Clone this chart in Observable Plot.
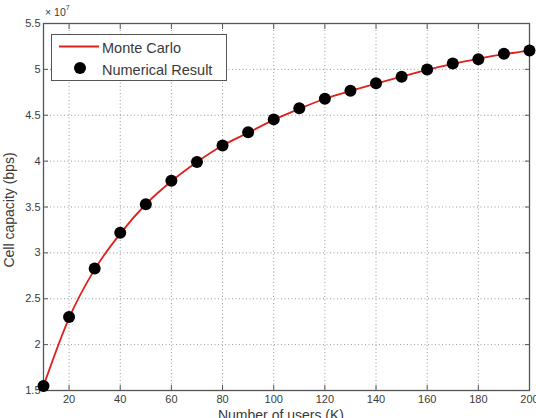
<!DOCTYPE html>
<html><head><meta charset="utf-8">
<script src="https://cdn.jsdelivr.net/npm/d3@7"></script>
<script src="https://cdn.jsdelivr.net/npm/@observablehq/plot@0.6"></script>
<style>
html,body{margin:0;padding:0;background:#fff;}
#chart{position:relative;width:536px;height:418px;font-family:"Liberation Sans",Arial,sans-serif;}
</style>
</head><body><div id="chart"></div>
<script>
const users = [10,20,30,40,50,60,70,80,90,100,110,120,130,140,150,160,170,180,190,200];
const numerical = [1.55,2.30,2.83,3.22,3.53,3.785,3.99,4.17,4.315,4.455,4.577,4.68,4.766,4.85,4.92,4.998,5.064,5.11,5.17,5.205];
const monteCarlo = [1.55,2.29,2.82,3.21,3.53,3.78,3.99,4.17,4.31,4.45,4.57,4.68,4.765,4.845,4.92,4.995,5.06,5.115,5.165,5.205];
const xTicks = [20,40,60,80,100,120,140,160,180,200];
const yTicks = [1.5,2,2.5,3,3.5,4,4.5,5,5.5];
const xLabel = "Number of users (K)";
const yLabel = "Cell capacity (bps)";
const series = ["Monte Carlo","Numerical Result"];

const mc = users.map((u,i)=>({u, v: monteCarlo[i]}));
const nr = users.map((u,i)=>({u, v: numerical[i]}));
const axisColor = "#555";
const textColor = "#3a3a3a";

const plot = Plot.plot({
  width: 536, height: 418,
  marginLeft: 43, marginRight: 7, marginTop: 23, marginBottom: 28,
  style: {fontFamily: "Liberation Sans, Arial, sans-serif", fontSize: "11px", color: textColor, background: "#fff"},
  x: {domain: [10, 200]},
  y: {domain: [1.5, 5.5]},
  marks: [
    Plot.gridX(xTicks, {stroke: "#999", strokeOpacity: 1, strokeDasharray: "1,2.5"}),
    Plot.gridY(yTicks, {stroke: "#999", strokeOpacity: 1, strokeDasharray: "1,2.5"}),
    Plot.axisX(xTicks, {anchor: "bottom", tickSize: -5, tickPadding: 10, label: null, stroke: axisColor, fill: textColor, fontSize: 11}),
    Plot.axisX(xTicks, {anchor: "top", tickSize: -5, tickFormat: () => "", label: null, stroke: axisColor}),
    Plot.axisY(yTicks, {anchor: "left", tickSize: -5, tickPadding: 8, label: null, tickFormat: d => String(d), stroke: axisColor, fill: textColor, fontSize: 11}),
    Plot.axisY(yTicks, {anchor: "right", tickSize: -5, tickFormat: () => "", label: null, stroke: axisColor}),
    Plot.frame({stroke: axisColor, strokeWidth: 1.3}),
    Plot.line(mc, {x: "u", y: "v", stroke: "#e0201b", strokeWidth: 1.8, curve: "monotone-x"}),
    Plot.dot(nr, {x: "u", y: "v", r: 6, fill: "#000", stroke: "none"})
  ]
});
const host = document.getElementById("chart");
host.appendChild(plot);

const svg = d3.select(plot);
// axis labels
svg.append("text").attr("x", 281).attr("y", 420).attr("text-anchor", "middle")
  .attr("font-size", 14).attr("fill", textColor).text(xLabel);
svg.append("text").attr("transform", "translate(14,210) rotate(-90)").attr("text-anchor", "middle")
  .attr("font-size", 14).attr("fill", textColor).text(yLabel);
// exponent
const ex = svg.append("text").attr("x", 45).attr("y", 16).attr("text-anchor", "start").attr("font-size", 10.5).attr("fill", textColor);
ex.append("tspan").text("× 10");
ex.append("tspan").attr("dy", -6).attr("font-size", 7).text("7");
// legend
const lg = svg.append("g");
lg.append("rect").attr("x", 51.5).attr("y", 34.5).attr("width", 175).attr("height", 46)
  .attr("fill", "#fff").attr("stroke", axisColor).attr("stroke-width", 1);
lg.append("line").attr("x1", 59).attr("x2", 99).attr("y1", 46.5).attr("y2", 46.5)
  .attr("stroke", "#e0201b").attr("stroke-width", 1.8);
lg.append("circle").attr("cx", 80).attr("cy", 68).attr("r", 6).attr("fill", "#000");
lg.append("text").attr("x", 102).attr("y", 53).attr("text-anchor", "start").attr("font-size", 14.5).attr("fill", textColor).text(series[0]);
lg.append("text").attr("x", 102).attr("y", 75).attr("text-anchor", "start").attr("font-size", 14.5).attr("fill", textColor).text(series[1]);
</script></body></html>
